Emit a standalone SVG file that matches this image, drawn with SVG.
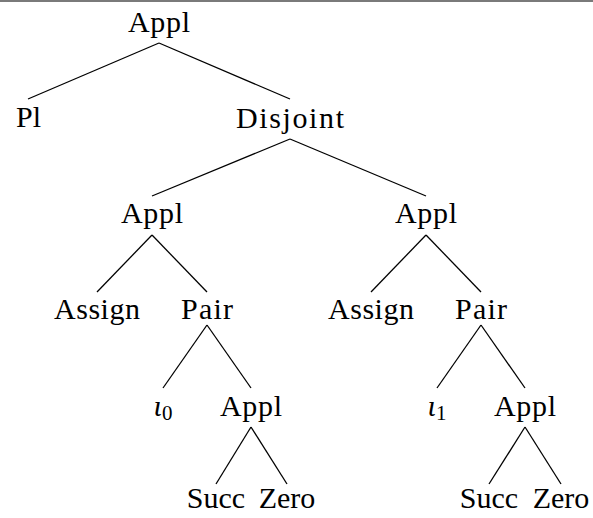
<svg xmlns="http://www.w3.org/2000/svg" width="593" height="518" viewBox="0 0 593 518">
<style>
svg g.t text{font-family:'Liberation Serif',serif !important;font-size:30px;fill:#000;text-anchor:middle}
.e line{stroke:#000;stroke-width:1.3}
.it{font-style:italic}
.sub{font-size:21px}
</style>
<rect x="0" y="0" width="593" height="518" fill="#fff"/>
<rect x="0" y="0" width="593" height="2" fill="#7a7a7a"/>
<g class="e" id="connectors">
<line x1="159" y1="43" x2="28" y2="99"/>
<line x1="159" y1="43" x2="290" y2="99"/>
<line x1="290" y1="139" x2="152" y2="196"/>
<line x1="290" y1="139" x2="426" y2="196"/>
<line x1="152" y1="235" x2="97" y2="292"/>
<line x1="152" y1="235" x2="207" y2="292"/>
<line x1="426" y1="235" x2="371" y2="292"/>
<line x1="426" y1="235" x2="481" y2="292"/>
<line x1="207" y1="325" x2="163" y2="388"/>
<line x1="207" y1="325" x2="251" y2="388"/>
<line x1="481" y1="325" x2="437" y2="388"/>
<line x1="481" y1="325" x2="525" y2="388"/>
<line x1="251" y1="427" x2="216" y2="484"/>
<line x1="251" y1="427" x2="287" y2="484"/>
<line x1="525" y1="427" x2="489" y2="484"/>
<line x1="525" y1="427" x2="561" y2="484"/>
</g>
<g class="t">
<g id="n-root"><text style="font-family:'Liberation Serif',serif" font-family="Liberation Serif" x="159" y="32" textLength="62" lengthAdjust="spacing">Appl</text></g>
<g id="n-pl"><text style="font-family:'Liberation Serif',serif" font-family="Liberation Serif" x="28.5" y="127">Pl</text></g>
<g id="n-disjoint"><text style="font-family:'Liberation Serif',serif" font-family="Liberation Serif" x="290" y="128" textLength="108" lengthAdjust="spacing">Disjoint</text></g>
<g id="n-appl1"><text style="font-family:'Liberation Serif',serif" font-family="Liberation Serif" x="152" y="223" textLength="62" lengthAdjust="spacing">Appl</text></g>
<g id="n-appl2"><text style="font-family:'Liberation Serif',serif" font-family="Liberation Serif" x="426" y="223" textLength="62" lengthAdjust="spacing">Appl</text></g>
<g id="n-assign1"><text style="font-family:'Liberation Serif',serif" font-family="Liberation Serif" x="97" y="319" textLength="86" lengthAdjust="spacing">Assign</text></g>
<g id="n-pair1"><text style="font-family:'Liberation Serif',serif" font-family="Liberation Serif" x="207" y="319" textLength="52" lengthAdjust="spacing">Pair</text></g>
<g id="n-assign2"><text style="font-family:'Liberation Serif',serif" font-family="Liberation Serif" x="371" y="319" textLength="86" lengthAdjust="spacing">Assign</text></g>
<g id="n-pair2"><text style="font-family:'Liberation Serif',serif" font-family="Liberation Serif" x="481" y="319" textLength="52" lengthAdjust="spacing">Pair</text></g>
<g id="n-iota0"><text style="font-family:'Liberation Serif',serif" font-family="Liberation Serif" x="163" y="416"><tspan class="it">ι</tspan><tspan class="sub" dy="4">0</tspan></text></g>
<g id="n-appl3"><text style="font-family:'Liberation Serif',serif" font-family="Liberation Serif" x="251" y="416" textLength="62" lengthAdjust="spacing">Appl</text></g>
<g id="n-iota1"><text style="font-family:'Liberation Serif',serif" font-family="Liberation Serif" x="437" y="416"><tspan class="it">ι</tspan><tspan class="sub" dy="4">1</tspan></text></g>
<g id="n-appl4"><text style="font-family:'Liberation Serif',serif" font-family="Liberation Serif" x="525" y="416" textLength="62" lengthAdjust="spacing">Appl</text></g>
<g id="n-succ1"><text style="font-family:'Liberation Serif',serif" font-family="Liberation Serif" x="216" y="508">Succ</text></g>
<g id="n-zero1"><text style="font-family:'Liberation Serif',serif" font-family="Liberation Serif" x="287" y="508">Zero</text></g>
<g id="n-succ2"><text style="font-family:'Liberation Serif',serif" font-family="Liberation Serif" x="489" y="508">Succ</text></g>
<g id="n-zero2"><text style="font-family:'Liberation Serif',serif" font-family="Liberation Serif" x="561" y="508">Zero</text></g>
</g>
</svg>
